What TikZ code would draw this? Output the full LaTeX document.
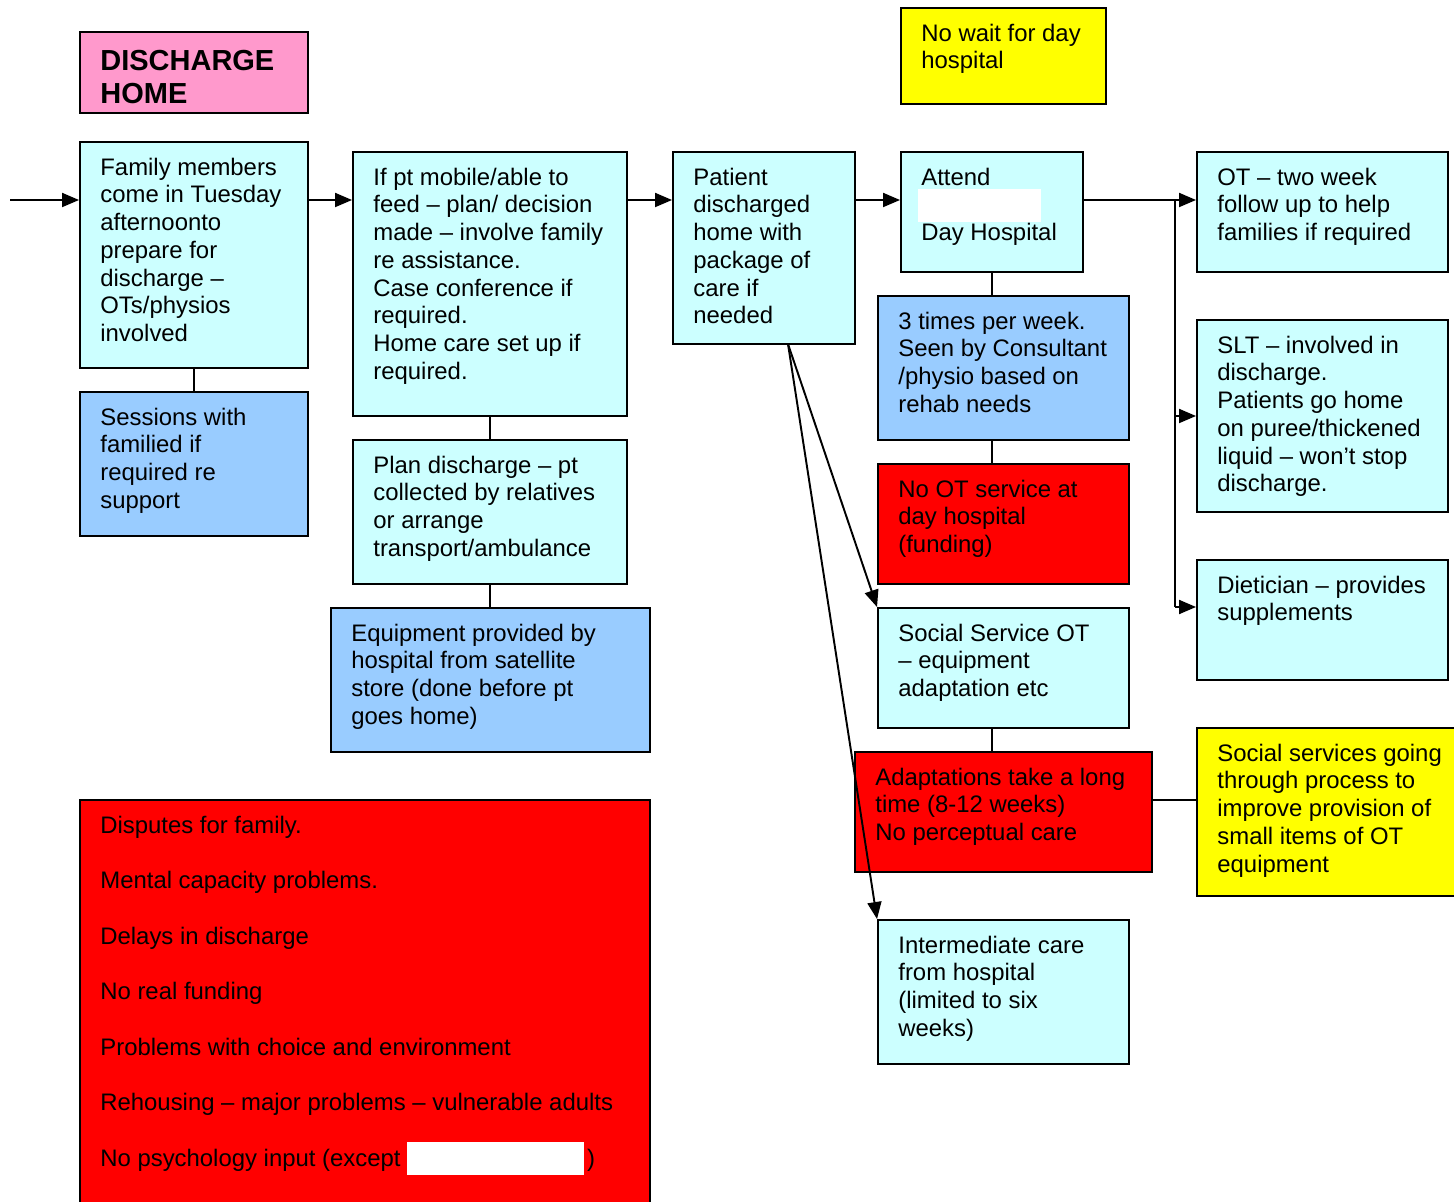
\documentclass[tikz,border=0pt]{standalone}
\usepackage{fontspec}
\setmainfont{Liberation Sans}
\usetikzlibrary{arrows.meta,fit}
\definecolor{cy}{HTML}{CCFFFF}
\definecolor{bl}{HTML}{99CCFF}
\definecolor{rd}{HTML}{FF0000}
\definecolor{yl}{HTML}{FFFF00}
\definecolor{pk}{HTML}{FF99CC}
\begin{document}
\begin{tikzpicture}[x=0.02cm,y=-0.02cm,
  bx/.style={draw=black, line width=1.1pt, inner sep=0pt, rectangle},
  cybox/.style={bx, fill=cy},
  blbox/.style={bx, fill=bl},
  rdbox/.style={bx, fill=rd},
  ylbox/.style={bx, fill=yl},
  pkbox/.style={bx, fill=pk},
  txt/.style={inner sep=0pt, anchor=north west, align=left,
    font=\fontsize{13.6pt}{15.8pt}\selectfont, execute at begin node={\rule{0pt}{10.5pt}}},
  ttl/.style={inner sep=0pt, anchor=north west, align=left,
    font=\fontsize{16.5pt}{18.8pt}\selectfont\bfseries, execute at begin node={\rule{0pt}{12.5pt}}},
  conn/.style={line width=1.1pt},
  arr/.style={conn, -{Triangle[length=0.34cm,width=0.28cm]}},
  redact/.style={fill=white, draw=none, inner sep=0pt}
]
\useasboundingbox (0,0) rectangle (1454,1202);

% boxes
\node[pkbox, fit={(80,32) (308,113)}] (disch) {};
\node[ttl] (disch-t) at ([shift={(21,18.5)}]disch.north west) {DISCHARGE\\HOME};

\node[ylbox, fit={(901,8) (1106,104)}] (nowait) {};
\node[txt] (nowait-t) at ([shift={(21,16.5)}]nowait.north west) {No wait for day\\hospital};

\node[cybox, fit={(80,142) (308,368)}] (family) {};
\node[txt] (family-t) at ([shift={(21,16.5)}]family.north west) {Family members\\come in Tuesday\\afternoonto\\prepare for\\discharge –\\OTs/physios\\involved};

\node[blbox, fit={(80,392) (308,536)}] (sessions) {};
\node[txt] (sessions-t) at ([shift={(21,16.5)}]sessions.north west) {Sessions with\\familied if\\required re\\support};

\node[cybox, fit={(353,152) (627,416)}] (ifpt) {};
\node[txt] (ifpt-t) at ([shift={(21,16.5)}]ifpt.north west) {If pt mobile/able to\\feed – plan/ decision\\made – involve family\\re assistance.\\Case conference if\\required.\\Home care set up if\\required.};

\node[cybox, fit={(353,440) (627,584)}] (plan) {};
\node[txt] (plan-t) at ([shift={(21,16.5)}]plan.north west) {Plan discharge – pt\\collected by relatives\\or arrange\\transport/ambulance};

\node[blbox, fit={(331,608) (650,752)}] (equip) {};
\node[txt] (equip-t) at ([shift={(21,16.5)}]equip.north west) {Equipment provided by\\hospital from satellite\\store (done before pt\\goes home)};

\node[cybox, fit={(673,152) (855,344)}] (patient) {};
\node[txt] (patient-t) at ([shift={(21,16.5)}]patient.north west) {Patient\\discharged\\home with\\package of\\care if\\needed};

\node[cybox, fit={(901,152) (1083,272)}] (attend) {};
\node[txt] (attend-t) at ([shift={(21,16.5)}]attend.north west) {Attend\\[15.8pt]Day Hospital};
\node[redact, fit={(918,189) (1041,222)}] (attend-r) {};

\node[blbox, fit={(878,296) (1129,440)}] (times) {};
\node[txt] (times-t) at ([shift={(21,16.5)}]times.north west) {3 times per week.\\Seen by Consultant\\/physio based on\\rehab needs};

\node[rdbox, fit={(878,464) (1129,584)}] (noot) {};
\node[txt] (noot-t) at ([shift={(21,16.5)}]noot.north west) {No OT service at\\day hospital\\(funding)};

\node[cybox, fit={(878,608) (1129,728)}] (socot) {};
\node[txt] (socot-t) at ([shift={(21,16.5)}]socot.north west) {Social Service OT\\– equipment\\adaptation etc};

\node[rdbox, fit={(855,752) (1152,872)}] (adapt) {};
\node[txt] (adapt-t) at ([shift={(21,16.5)}]adapt.north west) {Adaptations take a long\\time (8-12 weeks)\\No perceptual care};

\node[cybox, fit={(878,920) (1129,1064)}] (inter) {};
\node[txt] (inter-t) at ([shift={(21,16.5)}]inter.north west) {Intermediate care\\from hospital\\(limited to six\\weeks)};

\node[ylbox, fit={(1197,728) (1462,896)}] (socsvc) {};
\node[txt] (socsvc-t) at ([shift={(21,16.5)}]socsvc.north west) {Social services going\\through process to\\improve provision of\\small items of OT\\equipment};

\node[cybox, fit={(1197,152) (1448,272)}] (ot) {};
\node[txt] (ot-t) at ([shift={(21,16.5)}]ot.north west) {OT – two week\\follow up to help\\families if required};

\node[cybox, fit={(1197,320) (1448,512)}] (slt) {};
\node[txt] (slt-t) at ([shift={(21,16.5)}]slt.north west) {SLT – involved in\\discharge.\\Patients go home\\on puree/thickened\\liquid – won’t stop\\discharge.};

\node[cybox, fit={(1197,560) (1448,680)}] (diet) {};
\node[txt] (diet-t) at ([shift={(21,16.5)}]diet.north west) {Dietician – provides\\supplements};

\node[rdbox, fit={(80,800) (650,1220)}] (issues) {};
\node[txt] (issues-t) at ([shift={(21,16.5)}]issues.north west) {Disputes for family.\\[15.8pt]Mental capacity problems.\\[15.8pt]Delays in discharge\\[15.8pt]No real funding\\[15.8pt]Problems with choice and environment\\[15.8pt]Rehousing – major problems – vulnerable adults\\[15.8pt]No psychology input (except \hspace{3.6cm})};
\node[redact, fit={(407,1142) (584,1175)}] (issues-r) {};

% connectors
\coordinate (in) at (10,200);
\coordinate (br) at (1175,200);
\coordinate (pd) at (788,344);
\coordinate (av) at (1152,800);
\draw[arr] (in) -- (in -| family.west);
\draw[arr] (family.east |- in) -- (ifpt.west |- in);
\draw[arr] (ifpt.east |- in) -- (patient.west |- in);
\draw[arr] (patient.east |- in) -- (attend.west |- in);
\draw[arr] (attend.east |- in) -- (ot.west |- in);
\draw[conn] (br) -- (br |- 0,607);
\draw[arr] (br |- slt.west) -- (slt.west);
\draw[arr] (br |- 0,607) -- (diet.west |- 0,607);

\draw[conn] (family.south) -- (sessions.north);
\draw[conn] (ifpt.south) -- (plan.north);
\draw[conn] (plan.south) -- (plan.south |- equip.north);
\draw[conn] (attend.south) -- (attend.south |- times.north);
\draw[conn] (attend.south |- times.south) -- (attend.south |- noot.north);
\draw[conn] (attend.south |- socot.south) -- (attend.south |- adapt.north);
\draw[conn] (av) -- (socsvc.west |- av);

\draw[arr] (pd) -- (socot.north west);
\draw[arr] (pd) -- (inter.north west);
\end{tikzpicture}
\end{document}
